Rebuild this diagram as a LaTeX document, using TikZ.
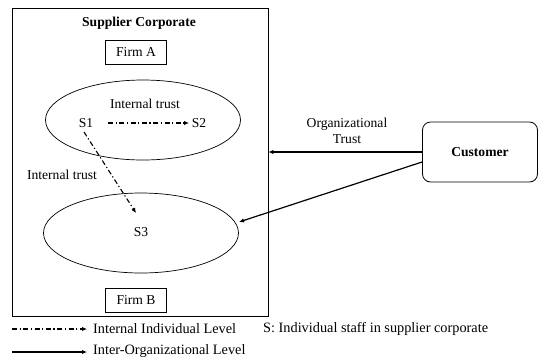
\documentclass[tikz,border=0pt]{standalone}
\usepackage{fontspec}
\setmainfont{Liberation Serif}
\usetikzlibrary{arrows.meta,shapes.geometric}
\begin{document}
\begin{tikzpicture}[x=1pt,y=-1pt,
  txt/.style={font=\fontsize{13.6}{16}\selectfont, inner sep=0pt},
  legendtxt/.style={font=\fontsize{14.3}{16}\selectfont, inner sep=0pt, anchor=west},
  firmbox/.style={draw, line width=0.8pt, minimum width=61pt, minimum height=24pt, font=\fontsize{13.6}{16}\selectfont},
  staffzone/.style={draw, line width=0.7pt, ellipse, minimum width=195pt, minimum height=80pt},
  indiv/.style={line width=1.1pt, dash pattern=on 5pt off 2.5pt on 1.3pt off 2.5pt, -{Latex[length=5pt,width=4.5pt]}},
  inter/.style={line width=1.2pt, -{Latex[length=5pt,width=4.5pt]}}
]
\useasboundingbox (0,0) rectangle (542,360);

% supplier corporate frame
\node[draw, line width=0.8pt, minimum width=256pt, minimum height=308pt, inner sep=0pt] (corp) at (140,162) {};
\node[txt, font=\fontsize{13.6}{16}\selectfont\bfseries] (corptitle) at (139,23) {Supplier Corporate};

\node[firmbox] (firmA) at (136,52) {Firm A};
\node[firmbox] (firmB) at (136,300) {Firm B};

% staff zones
\node[staffzone] (zone1) at (143,120) {};
\node[staffzone] (zone2) at (141,233) {};

\node[txt] (it1) at (145,104) {Internal trust};
\node[txt] (s1) at (86,123) {S1};
\node[txt] (s2) at (199,123) {S2};
\node[txt] (s3) at (141,232) {S3};
\node[txt] (it2) at (62,175) {Internal trust};

% internal trust between staff
\coordinate (s1r) at (108,123);
\coordinate (s2l) at (189,123);
\draw[indiv] (s1r) -- (s2l);
\coordinate (s1b) at (84,132);
\coordinate (s3t) at (136,213);
\draw[indiv] (s1b) -- (s3t);

% customer
\node[draw, line width=0.8pt, rounded corners=8pt, minimum width=115pt, minimum height=60pt,
      font=\fontsize{13.6}{16}\selectfont\bfseries] (cust) at (480,152) {Customer};

\draw[inter] (cust.west) -- (corp.east |- cust.west);
\node[txt, align=center] (orgtrust) at (347,131) {Organizational\\Trust};
\coordinate (custlow) at (422,162);
\coordinate (zone2r) at (239,222);
\draw[inter] (custlow) -- (zone2r);

% legend
\coordinate (l1a) at (12,329);
\coordinate (l1b) at (87,329);
\coordinate (l2a) at (12,352);
\coordinate (l2b) at (87,352);
\draw[indiv] (l1a) -- (l1b);
\draw[inter] (l2a) -- (l2b);
\node[legendtxt] (lg1) at (93,329) {Internal Individual Level};
\node[legendtxt] (lg2) at (93,351) {Inter-Organizational Level};
\node[legendtxt] (lg3) at (263,329) {S: Individual staff in supplier corporate};
\end{tikzpicture}
\end{document}
